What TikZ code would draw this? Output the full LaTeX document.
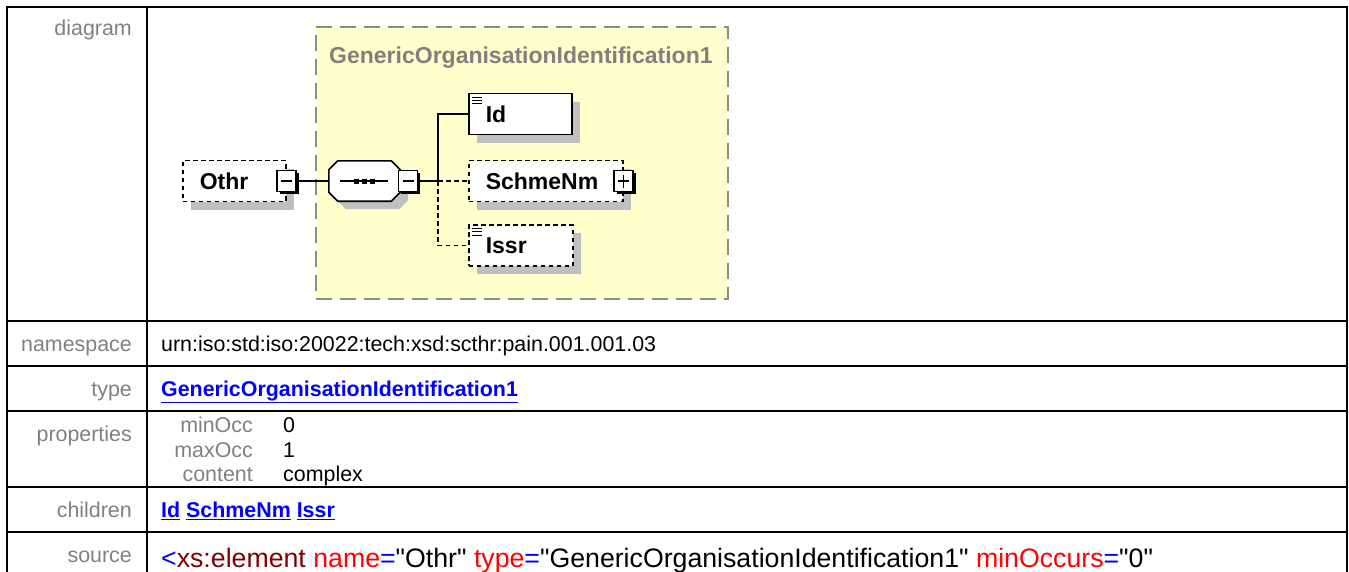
\documentclass[tikz,border=0pt]{standalone}
\usepackage{fontspec}
\setmainfont{Liberation Sans}
\newfontfamily\codefont{Liberation Sans}
\usetikzlibrary{shadows}
\definecolor{typefill}{RGB}{255,255,204}
\definecolor{typeline}{RGB}{140,140,140}
\definecolor{labelgray}{RGB}{128,128,128}
\definecolor{tagred}{RGB}{128,0,0}
\definecolor{attrred}{RGB}{255,0,0}
\definecolor{linkblue}{RGB}{0,0,255}
\begin{document}
\begin{tikzpicture}[x=1pt, y=-1pt,
        every node/.style={inner sep=0pt, font=\fontsize{21.4}{25}\selectfont},
        frame/.style={line width=2.2pt, line cap=rect},
        rowlabel/.style={anchor=base east, text=labelgray},
        rowvalue/.style={anchor=base west},
        linktext/.style={anchor=base west, text=linkblue,
            font=\fontsize{21.4}{25}\selectfont\bfseries},
        codetext/.style={anchor=base west,
            font=\codefont\fontsize{26.7}{30}\selectfont},
        typebox/.style={draw=typeline, fill=typefill, line width=1.8pt,
            dash pattern=on 16pt off 8pt},
        typetitle/.style={anchor=base west, text=labelgray,
            font=\fontsize{23}{27}\selectfont\bfseries},
        elembox/.style={draw, fill=white, line width=1.6pt, anchor=west,
            align=left, inner xsep=17pt, minimum height=41pt,
            text height=16.5pt, text depth=0pt,
            font=\fontsize{23}{27}\selectfont\bfseries,
            drop shadow={shadow xshift=8pt, shadow yshift=-8pt,
                fill=black!25, opacity=1}},
        optional/.style={dash pattern=on 4.5pt off 3.5pt},
        seqarea/.style={minimum width=71pt, minimum height=40pt},
        seqline/.style={draw, fill=white, line width=1.6pt,
            drop shadow={shadow xshift=8pt, shadow yshift=-8pt,
                fill=black!25, opacity=1}},
        togglebox/.style={draw, fill=white, line width=1.4pt,
            minimum width=19pt, minimum height=21pt,
            drop shadow={shadow xshift=2.5pt, shadow yshift=-2.5pt,
                fill=black, opacity=1}},
        minusbox/.style={togglebox, path picture={
            \draw[line width=1.2pt]
              ([xshift=4pt]path picture bounding box.west) --
              ([xshift=-4pt]path picture bounding box.east);}},
        plusbox/.style={togglebox, path picture={
            \draw[line width=1.2pt]
              ([xshift=4pt]path picture bounding box.west) --
              ([xshift=-4pt]path picture bounding box.east);
            \draw[line width=1.2pt]
              ([yshift=-4pt]path picture bounding box.north) --
              ([yshift=4pt]path picture bounding box.south);}},
        docmark/.style={path picture={
            \foreach \k in {0,1,2}
              \draw[solid, line width=0.8pt]
                ([shift={(3pt,{-3.5pt-\k*3.2pt})}]path picture bounding box.north west)
                -- ++(10pt,0pt);}},
        link/.style={line width=1.6pt}
      ]
      \useasboundingbox (0,0) rectangle (1349,571);
      \draw[frame] (7,571) -- (7,7) -- (1347,7) -- (1347,571);
      \draw[frame] (147,7) -- (147,571);
      \foreach \y in {321,366,411,487,532}
        \draw[frame] (7,\y) -- (1347,\y);
      \node[rowlabel] (lbdiagram) at (132,35.5) {diagram};
      \node[rowlabel] (lbnamespace) at (132,351) {namespace};
      \node[rowlabel] (lbtype) at (132,396) {type};
      \node[rowlabel] (lbprops) at (132,441) {properties};
      \node[rowlabel] (lbchildren) at (132,517.5) {children};
      \node[rowlabel] (lbsource) at (132,562) {source};
      \node[rowvalue] (namespace) at (161,351)
      {urn:iso:std:iso:20022:tech:xsd:scthr:pain.001.001.03};
      \node[linktext] (typelink) at (161,396)
      {\underline{GenericOrganisationIdentification1}};
      \node[rowlabel] (lbminocc) at (253,432.5) {minOcc};
      \node[rowlabel] (lbmaxocc) at (253,457.5) {maxOcc};
      \node[rowlabel] (lbcontent) at (253,481) {content};
      \node[rowvalue] (minocc) at (283,432.5) {0};
      \node[rowvalue] (maxocc) at (283,457.5) {1};
      \node[rowvalue] (content) at (283,481) {complex};
      \node[linktext] (childlinks) at (161,517.5)
      {\underline{Id} \underline{SchmeNm} \underline{Issr}};
      \node[codetext] (srccode) at (161,567)
      {{\color{linkblue}<}{\color{tagred}xs:element}
        {\color{attrred}name}{\color{linkblue}=}"Othr"
        {\color{attrred}type}{\color{linkblue}=}"GenericOrganisationIdentification1"
        {\color{attrred}minOccurs}{\color{linkblue}=}"0"};
      \node[typebox, minimum width=412pt, minimum height=272pt] (ctype) at (522,163) {};
      \node[typetitle] (ctypetitle) at (329,63) {GenericOrganisationIdentification1};
      \node[elembox, optional, text width=69pt] (othr) at (182,181) {Othr};
      \node[minusbox] (othrtoggle) at (othr.east) {};
      \node[seqarea] (seq) at (364.5,181) {};
      \path[seqline] ([xshift=9pt]seq.north west) -- ([xshift=-9pt]seq.north east)
        -- ([yshift=-9pt]seq.north east) -- ([yshift=9pt]seq.south east)
        -- ([xshift=-9pt]seq.south east) -- ([xshift=9pt]seq.south west)
        -- ([yshift=9pt]seq.south west) -- ([yshift=-9pt]seq.north west) -- cycle;
      \node[minusbox] (seqtoggle) at ([xshift=8pt]seq.east) {};
      \draw[line width=1.4pt] ([xshift=11pt]seq.west) -- ([xshift=-12pt]seq.east);
      \foreach \dx in {-8,0,8}
        \fill ([xshift=\dx pt]seq.center) +(-2.8pt,-2.5pt) rectangle +(2.8pt,2.5pt);
      \coordinate (branch) at (438,181);
      \node[elembox, docmark, text width=69pt] (id) at (468,114) {Id};
      \node[elembox, optional, text width=120pt] (schmenm) at (468,181) {SchmeNm};
      \node[plusbox] (schmetoggle) at (schmenm.east) {};
      \node[elembox, optional, docmark, text width=70pt] (issr) at (468,245.5) {Issr};
      \draw[link] (othrtoggle.east) -- (seq.west);
      \draw[link] (seqtoggle.east) -- (branch);
      \draw[link] (branch) |- (id.west);
      \draw[link, optional] (branch) -- (schmenm.west);
      \draw[link, optional] (branch) |- (issr.west);
    \end{tikzpicture}
\end{document}
